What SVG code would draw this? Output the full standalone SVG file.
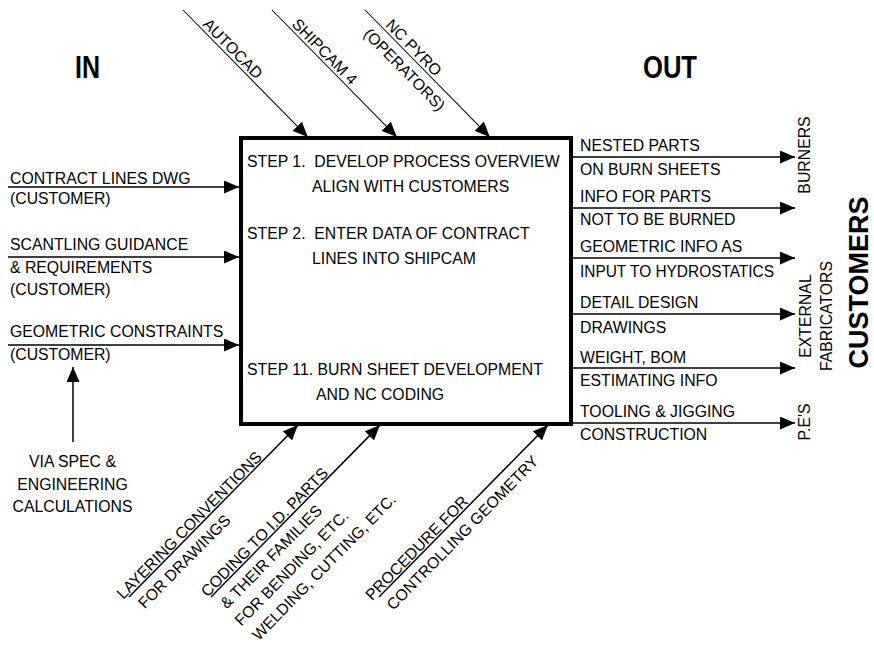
<svg xmlns="http://www.w3.org/2000/svg" width="874" height="647" viewBox="0 0 874 647">
<style>
.t{font-family:"Liberation Sans",Arial,sans-serif;font-size:15.8px;fill:#000;white-space:pre}
.b{font-weight:bold}
.ln{stroke:#000;stroke-width:1.5;fill:none}
.th{stroke:#000;stroke-width:1;fill:none}
.box{fill:#fff;stroke:#000;stroke-width:4}
</style>
<defs>
<marker id="ah" markerUnits="userSpaceOnUse" viewBox="0 0 16 13" markerWidth="16" markerHeight="13" refX="15" refY="6.5" orient="auto">
<path d="M0,0 L15,6.5 L0,13 z" fill="#000"/>
</marker>
</defs>
<rect width="874" height="647" fill="#fff"/>

<g id="titles">
<text class="t b" x="75" y="78" textLength="25" lengthAdjust="spacingAndGlyphs" style="font-size:32px">IN</text>
<text class="t b" x="643" y="78" textLength="54" lengthAdjust="spacingAndGlyphs" style="font-size:32px">OUT</text>
<text class="t b" transform="translate(868,282.5) rotate(-90)" text-anchor="middle" textLength="172" lengthAdjust="spacingAndGlyphs" style="font-size:27px">CUSTOMERS</text>
</g>

<g id="process">
<rect class="box" x="241" y="138" width="330" height="286"/>
<text class="t" x="247" y="167">STEP 1.  DEVELOP PROCESS OVERVIEW</text>
<text class="t" x="312" y="192">ALIGN WITH CUSTOMERS</text>
<text class="t" x="247" y="239">STEP 2.  ENTER DATA OF CONTRACT</text>
<text class="t" x="312" y="264">LINES INTO SHIPCAM</text>
<text class="t" x="247" y="375">STEP 11. BURN SHEET DEVELOPMENT</text>
<text class="t" x="316" y="400">AND NC CODING</text>
</g>

<g id="connectors">
<line class="ln" x1="8" y1="187" x2="239" y2="187" marker-end="url(#ah)"/>
<line class="ln" x1="8" y1="257" x2="239" y2="257" marker-end="url(#ah)"/>
<line class="ln" x1="8" y1="345" x2="239" y2="345" marker-end="url(#ah)"/>
<line class="ln" x1="73" y1="442" x2="73" y2="367" marker-end="url(#ah)"/>
<line class="ln" x1="571" y1="157" x2="795" y2="157" marker-end="url(#ah)"/>
<line class="ln" x1="571" y1="208" x2="795" y2="208" marker-end="url(#ah)"/>
<line class="ln" x1="571" y1="258" x2="795" y2="258" marker-end="url(#ah)"/>
<line class="ln" x1="571" y1="314" x2="795" y2="314" marker-end="url(#ah)"/>
<line class="ln" x1="571" y1="368" x2="795" y2="368" marker-end="url(#ah)"/>
<line class="ln" x1="571" y1="423" x2="795" y2="423" marker-end="url(#ah)"/>
<g transform="translate(183,10) rotate(45.5)"><line class="th" x1="0" y1="0" x2="178" y2="0" marker-end="url(#ah)"/></g>
<g transform="translate(272,10) rotate(45.5)"><line class="th" x1="0" y1="0" x2="178" y2="0" marker-end="url(#ah)"/></g>
<g transform="translate(365,10) rotate(45.5)"><line class="th" x1="0" y1="0" x2="178" y2="0" marker-end="url(#ah)"/></g>
<g transform="translate(129,597) rotate(-45.5)"><line class="ln" x1="0" y1="0" x2="241" y2="0" marker-end="url(#ah)"/></g>
<g transform="translate(211,597) rotate(-45.5)"><line class="ln" x1="0" y1="0" x2="241" y2="0" marker-end="url(#ah)"/></g>
<g transform="translate(379,597) rotate(-45.5)"><line class="ln" x1="0" y1="0" x2="241" y2="0" marker-end="url(#ah)"/></g>
</g>

<g id="inputs">
<text class="t" x="10" y="184">CONTRACT LINES DWG</text>
<text class="t" x="10" y="204">(CUSTOMER)</text>
<text class="t" x="10" y="250">SCANTLING GUIDANCE</text>
<text class="t" x="10" y="273">&amp; REQUIREMENTS</text>
<text class="t" x="10" y="295">(CUSTOMER)</text>
<text class="t" x="10" y="337">GEOMETRIC CONSTRAINTS</text>
<text class="t" x="10" y="360">(CUSTOMER)</text>
<text class="t" x="72.5" y="467" text-anchor="middle">VIA SPEC &amp;</text>
<text class="t" x="72.5" y="489.5" text-anchor="middle">ENGINEERING</text>
<text class="t" x="72.5" y="512" text-anchor="middle">CALCULATIONS</text>
</g>

<g id="controls">
<text class="t" transform="translate(183,10) rotate(45.5)" x="24" y="-3">AUTOCAD</text>
<text class="t" transform="translate(272,10) rotate(45.5)" x="24" y="-3">SHIPCAM 4</text>
<text class="t" transform="translate(365,10) rotate(45.5)" x="25" y="-3">NC PYRO</text>
<text class="t" transform="translate(365,10) rotate(45.5)" x="16" y="19">(OPERATORS)</text>
</g>

<g id="mechanisms">
<g transform="translate(129,597) rotate(-45.5)">
<text class="t" x="-6" y="-2">LAYERING CONVENTIONS</text>
<text class="t" x="2" y="20">FOR DRAWINGS</text>
</g>
<g transform="translate(211,597) rotate(-45.5)">
<text class="t" x="-3" y="-2">CODING TO I.D. PARTS</text>
<text class="t" x="2" y="20">&amp; THEIR FAMILIES</text>
<text class="t" x="0" y="42.5">FOR BENDING, ETC.</text>
<text class="t" x="2" y="65">WELDING, CUTTING, ETC.</text>
</g>
<g transform="translate(379,597) rotate(-45.5)">
<text class="t" x="-8" y="-2">PROCEDURE FOR</text>
<text class="t" x="0" y="20">CONTROLLING GEOMETRY</text>
</g>
</g>

<g id="outputs">
<text class="t" x="580" y="151">NESTED PARTS</text>
<text class="t" x="580" y="175">ON BURN SHEETS</text>
<text class="t" x="580" y="202">INFO FOR PARTS</text>
<text class="t" x="580" y="225">NOT TO BE BURNED</text>
<text class="t" x="580" y="252">GEOMETRIC INFO AS</text>
<text class="t" x="580" y="277" textLength="194" lengthAdjust="spacingAndGlyphs">INPUT TO HYDROSTATICS</text>
<text class="t" x="580" y="308">DETAIL DESIGN</text>
<text class="t" x="580" y="333">DRAWINGS</text>
<text class="t" x="580" y="363">WEIGHT, BOM</text>
<text class="t" x="580" y="386">ESTIMATING INFO</text>
<text class="t" x="580" y="417">TOOLING &amp; JIGGING</text>
<text class="t" x="580" y="440">CONSTRUCTION</text>
</g>

<g id="customers">
<text class="t" transform="translate(810,155) rotate(-90)" text-anchor="middle">BURNERS</text>
<text class="t" transform="translate(811,316) rotate(-90)" text-anchor="middle">EXTERNAL</text>
<text class="t" transform="translate(832,316) rotate(-90)" text-anchor="middle">FABRICATORS</text>
<text class="t" transform="translate(810,422) rotate(-90)" text-anchor="middle">P.E'S</text>
</g>
</svg>
